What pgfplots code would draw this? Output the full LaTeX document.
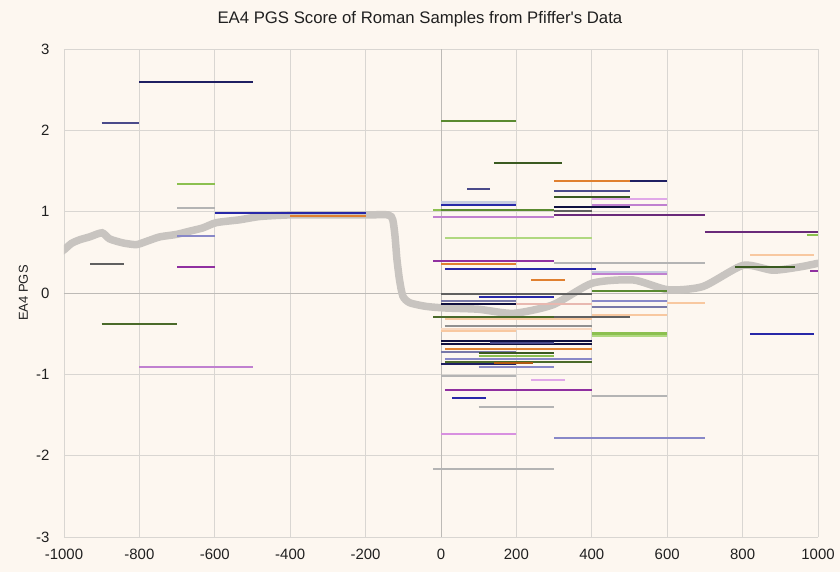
\documentclass[border=0pt]{standalone}
\usepackage{pgfplots}
\pgfplotsset{compat=1.18}
\usepackage{fontspec}
\setmainfont{Liberation Sans}
\definecolor{bg}{HTML}{FDF7F0}
\definecolor{gridc}{HTML}{D9D6D2}
\definecolor{zeroc}{HTML}{BDBAB6}
\definecolor{labc}{HTML}{202020}
\definecolor{curve}{HTML}{C8C4C0}
\definecolor{navyA}{HTML}{1F1F62}
\definecolor{slateblue}{HTML}{4A4A8A}
\definecolor{yellowgreen}{HTML}{8CC050}
\definecolor{lightgrayA}{HTML}{B4B4B4}
\definecolor{lavender}{HTML}{8888C8}
\definecolor{purpleA}{HTML}{9030A0}
\definecolor{dimgrayA}{HTML}{606060}
\definecolor{olivedk}{HTML}{4A6A2A}
\definecolor{orchid}{HTML}{C080D0}
\definecolor{blueA}{HTML}{2828A8}
\definecolor{orangeA}{HTML}{E08030}
\definecolor{peach}{HTML}{F8C8A0}
\definecolor{darkpurple}{HTML}{6A2A7A}
\definecolor{greenolive}{HTML}{5A8A30}
\definecolor{darkgreen}{HTML}{3A5A20}
\definecolor{navyB}{HTML}{101040}
\definecolor{plum}{HTML}{E0A8E8}
\definecolor{lightgreen}{HTML}{B0D880}
\definecolor{steel}{HTML}{C8CCE0}
\definecolor{slate}{HTML}{7878A8}
\definecolor{brownA}{HTML}{B05A10}
\definecolor{pinkA}{HTML}{E8B8B0}
\definecolor{violet}{HTML}{D890E0}
\definecolor{lpeach}{HTML}{F8D8C0}
\definecolor{grayA}{HTML}{909090}
\newcommand{\seg}[4]{\addplot[color=#1, line width=2bp, forget plot] coordinates {(#2,#4) (#3,#4)};}
\newcommand{\segw}[4]{\addplot[color=#1, line width=3bp, forget plot] coordinates {(#2,#4) (#3,#4)};}
\begin{document}
\begin{tikzpicture}
\fill[bg] (-64bp,-35bp) rectangle (776bp,537bp);
\begin{axis}[
  at={(0,0)}, anchor=south west, scale only axis,
  width=754bp, height=488bp,
  xmin=-1000, xmax=1000, ymin=-3, ymax=3,
  xtick={-1000,-800,-600,-400,-200,0,200,400,600,800,1000},
  xticklabels={-1000,-800,-600,-400,-200,0,200,400,600,800,1000},
  ytick={-3,-2,-1,0,1,2,3},
  yticklabels={-3,-2,-1,0,1,2,3},
  extra x ticks={0}, extra y ticks={0},
  extra x tick labels={}, extra y tick labels={},
  extra tick style={grid=major, major grid style={color=zeroc, line width=0.9bp}},
  grid=major, major grid style={color=gridc, line width=0.8bp},
  axis line style={draw=none}, major tick length=0pt,
  tick label style={font=\fontsize{15}{17}\selectfont, text=labc},
  xticklabel style={yshift=-9bp},
  yticklabel style={xshift=-11bp},
  ylabel={EA4 PGS},
  every axis y label/.style={at={(axis description cs:0,0.5)}, rotate=90, anchor=center, yshift=40.5bp, font=\fontsize{13}{15}\selectfont, text=labc},
  title={EA4 PGS Score of Roman Samples from Pfiffer\textquotesingle s Data},
  every axis title/.style={at={(axis description cs:0.472,1)}, anchor=center, yshift=30bp, font=\fontsize{16.8}{19}\selectfont, text=labc},
]
% smooth grey curve
\addplot[color=curve, line width=7.5bp, smooth, tension=0.4, forget plot] coordinates {
(-1010,0.50) (-1000,0.53) (-980,0.61) (-958,0.655) (-932,0.69) (-899,0.74) (-879,0.665)
(-843,0.615) (-808,0.595) (-781,0.635) (-746,0.69) (-702,0.72) (-667,0.76)
(-632,0.80) (-596,0.865) (-534,0.90) (-481,0.94) (-401,0.96) (-300,0.96) (-200,0.96) (-140,0.96)
(-128,0.90) (-122,0.70) (-117,0.42) (-110,0.16) (-101,-0.04) (-83,-0.12) (-39,-0.165)
(14,-0.185) (100,-0.20) (192,-0.25) (297,-0.145) (401,0.12) (510,0.16) (602,0.04)
(695,0.08) (801,0.34) (880,0.28) (951,0.32) (1000,0.365) (1010,0.37)};
% left
\seg{dimgrayA}{-930}{-840}{0.36}
\seg{olivedk}{-900}{-700}{-0.38}
\seg{orchid}{-800}{-500}{-0.91}
\seg{purpleA}{-700}{-600}{0.32}
\seg{lavender}{-700}{-600}{0.70}
\seg{lightgrayA}{-700}{-600}{1.05}
\seg{yellowgreen}{-700}{-600}{1.345}
\seg{slateblue}{-900}{-800}{2.095}
\seg{navyA}{-800}{-500}{2.60}
\seg{orangeA}{-400}{-200}{0.945}
\seg{blueA}{-600}{-200}{0.985}
% centre, top part
\seg{greenolive}{0}{200}{2.12}
\seg{darkgreen}{140}{320}{1.60}
\seg{navyA}{400}{600}{1.38}
\seg{orangeA}{300}{500}{1.38}
\seg{slateblue}{70}{130}{1.275}
\seg{slateblue}{300}{500}{1.255}
\seg{darkgreen}{300}{500}{1.185}
\seg{plum}{400}{600}{1.157}
\segw{steel}{0}{200}{1.11}
\seg{blueA}{0}{200}{1.078}
\seg{orchid}{400}{600}{1.08}
\seg{navyB}{300}{500}{1.06}
\seg{yellowgreen}{-20}{100}{1.025}
\seg{greenolive}{0}{300}{1.025}
\seg{dimgrayA}{300}{400}{1.01}
\seg{darkpurple}{300}{700}{0.965}
\seg{orchid}{-20}{300}{0.93}
\seg{lightgreen}{10}{400}{0.676}
\seg{purpleA}{-20}{300}{0.39}
\seg{orangeA}{0}{200}{0.357}
\seg{lightgrayA}{300}{700}{0.37}
\seg{blueA}{10}{410}{0.30}
\segw{steel}{400}{600}{0.255}
\seg{orchid}{400}{600}{0.235}
\seg{orangeA}{240}{330}{0.156}
\seg{greenolive}{400}{600}{0.02}
\seg{dimgrayA}{0}{400}{-0.01}
\seg{blueA}{100}{300}{-0.045}
% centre, lower part
\seg{slate}{0}{200}{-0.10}
\seg{pinkA}{100}{400}{-0.14}
\seg{navyB}{0}{200}{-0.135}
\seg{lavender}{400}{600}{-0.10}
\seg{peach}{600}{700}{-0.125}
\seg{slate}{400}{600}{-0.17}
\seg{peach}{400}{600}{-0.267}
\seg{dimgrayA}{300}{500}{-0.30}
\seg{olivedk}{-20}{300}{-0.30}
\seg{peach}{10}{400}{-0.316}
\seg{grayA}{10}{400}{-0.405}
\seg{lpeach}{0}{400}{-0.44}
\seg{peach}{0}{200}{-0.467}
\segw{yellowgreen}{400}{600}{-0.50}
\seg{lightgreen}{400}{600}{-0.525}
\seg{navyB}{0}{400}{-0.587}
\seg{navyB}{0}{400}{-0.623}
\seg{slateblue}{130}{300}{-0.615}
\seg{orangeA}{10}{400}{-0.69}
\seg{slate}{0}{200}{-0.73}
\seg{darkgreen}{100}{300}{-0.74}
\seg{yellowgreen}{100}{300}{-0.78}
\seg{lavender}{10}{400}{-0.81}
\seg{olivedk}{10}{400}{-0.85}
\seg{navyA}{0}{200}{-0.87}
\seg{brownA}{140}{245}{-0.857}
\seg{lavender}{100}{300}{-0.91}
\seg{lightgrayA}{0}{200}{-1.017}
\seg{plum}{240}{330}{-1.074}
\seg{purpleA}{10}{400}{-1.193}
\seg{blueA}{30}{120}{-1.29}
\seg{lightgrayA}{400}{600}{-1.27}
\seg{lightgrayA}{100}{300}{-1.40}
\seg{violet}{0}{200}{-1.73}
\seg{lavender}{300}{700}{-1.784}
\seg{lightgrayA}{-20}{300}{-2.165}
% right
\seg{darkpurple}{700}{1000}{0.75}
\seg{yellowgreen}{970}{1000}{0.71}
\seg{peach}{820}{990}{0.47}
\seg{darkgreen}{780}{940}{0.325}
\seg{purpleA}{980}{1000}{0.275}
\seg{blueA}{820}{990}{-0.51}
\end{axis}
\end{tikzpicture}
\end{document}
